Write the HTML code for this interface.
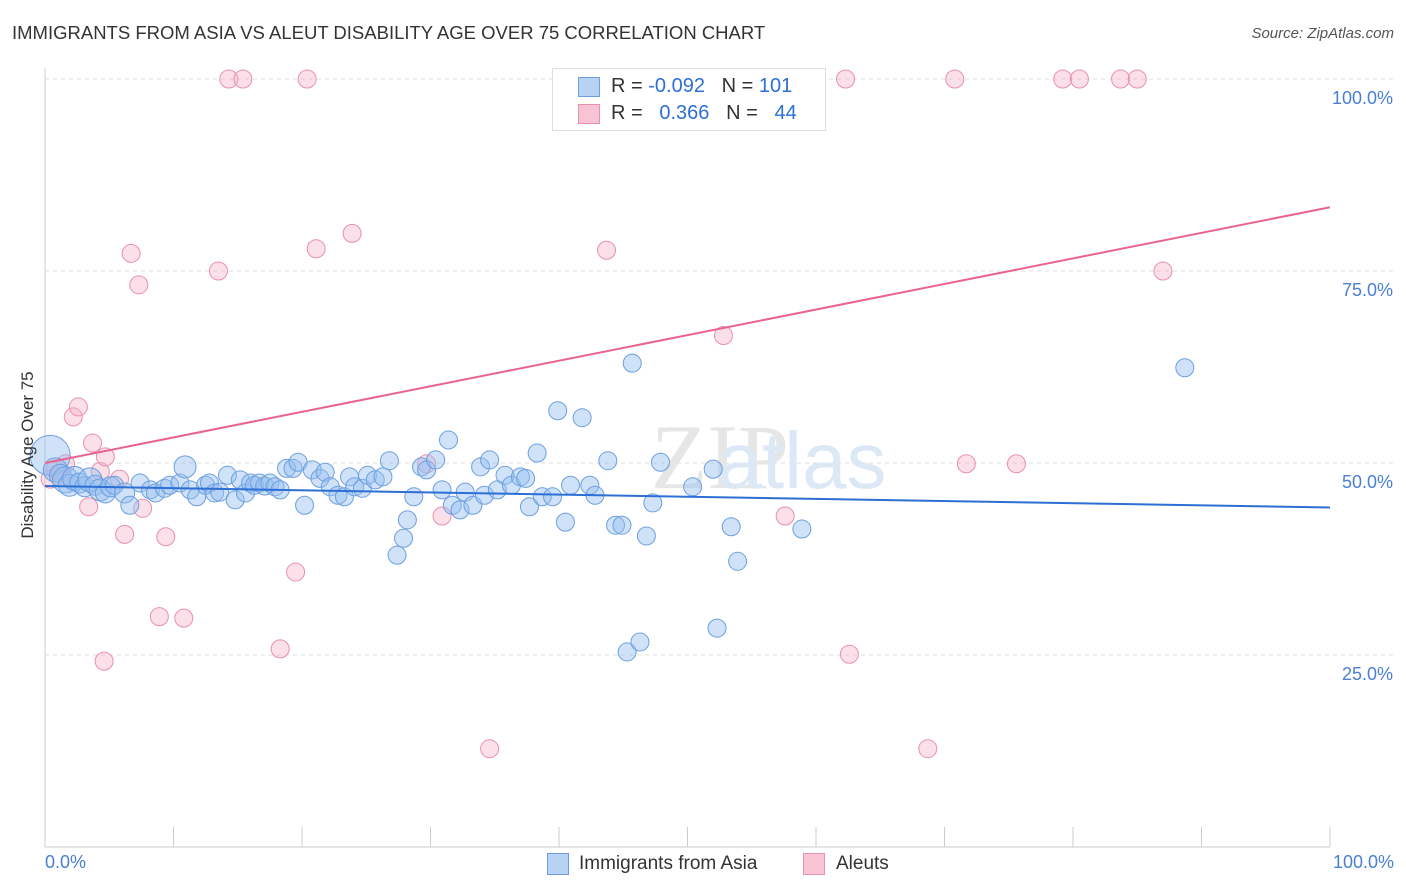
<!DOCTYPE html>
<html><head><meta charset="utf-8"><style>
body{margin:0;background:#fff;font-family:"Liberation Sans",sans-serif}
#wrap{position:relative;width:1406px;height:892px;overflow:hidden}
.t{position:absolute;white-space:nowrap}
</style></head><body>
<div id="wrap">
<div class="t" style="left:12px;top:22px;font-size:18.5px;color:#333">IMMIGRANTS FROM ASIA VS ALEUT DISABILITY AGE OVER 75 CORRELATION CHART</div>
<div class="t" style="right:12px;top:25px;font-size:15px;color:#555;font-style:italic">Source: ZipAtlas.com</div>
<svg id="svg" width="1406" height="892" style="position:absolute;left:0;top:0"></svg>
</div>
<script>
const yTicks=[25,50,75,100];
const yTickLabels=["25.0%","50.0%","75.0%","100.0%"];
const blueX=[0.4,0.8,1.2,1.6,1.9,2.3,2.7,3.1,3.5,3.9,4.3,4.7,5.1,5.4,6.2,6.6,7.4,8.2,8.6,9.3,9.7,10.5,10.9,11.3,11.8,12.5,12.8,13.2,13.6,14.2,14.8,15.2,15.6,16.0,16.3,16.7,17.1,17.5,17.9,18.3,18.8,19.3,19.7,20.2,20.8,21.4,21.8,22.2,22.8,23.3,23.7,24.1,24.7,25.1,25.7,26.3,26.8,27.4,27.9,28.2,28.7,29.3,29.7,30.4,30.9,31.4,31.7,32.3,32.7,33.3,33.9,34.2,34.6,35.2,35.8,36.3,37.0,37.4,37.7,38.3,38.7,39.5,39.9,40.5,40.9,41.8,42.4,42.8,43.8,44.4,44.9,45.3,46.3,46.8,47.3,47.9,45.7,50.4,52.0,52.3,53.4,53.9,58.9,88.7];
const blueY=[51.0,49.1,48.4,47.8,47.1,48.0,47.4,46.9,47.8,47.1,46.5,46.1,46.9,47.1,46.1,44.5,47.4,46.5,46.1,46.7,47.1,47.4,49.5,46.5,45.6,47.1,47.4,46.1,46.2,48.4,45.2,47.8,46.1,47.4,47.1,47.4,47.0,47.4,46.9,46.5,49.3,49.3,50.1,44.5,49.1,48.0,48.8,46.9,45.8,45.6,48.2,46.9,46.7,48.4,47.8,48.2,50.3,38.0,40.2,42.6,45.6,49.5,49.1,50.4,46.5,53.0,44.5,43.9,46.2,44.5,49.5,45.8,50.4,46.5,48.4,47.1,48.2,48.0,44.3,51.3,45.6,45.6,56.8,42.3,47.1,55.9,47.1,45.8,50.3,41.9,41.9,25.4,26.7,40.5,44.8,50.1,63.0,46.9,49.2,28.5,41.7,37.2,41.4,62.4];
const blueR=[20,12,11,13,11,12,10,10,12,10,11,10,10,9,10,9,9,9,9,9,9,9,11,9,9,9,9,9,9,9,9,9,9,9,9,9,9,9,9,9,9,9,9,9,9,9,9,9,9,9,9,9,9,9,9,9,9,9,9,9,9,9,9,9,9,9,9,9,9,9,9,9,9,9,9,9,9,9,9,9,9,9,9,9,9,9,9,9,9,9,9,9,9,9,9,9,9,9,9,9,9,9,9,9];
const pinkX=[0.4,0.8,1.2,1.6,2.2,2.6,3.4,3.7,4.3,4.6,4.7,5.8,6.2,6.7,7.3,7.6,8.9,9.4,10.8,13.5,14.3,15.4,18.3,19.5,20.4,21.1,23.9,29.7,30.9,34.6,43.7,47.2,52.8,57.6,62.3,62.6,68.7,70.8,71.7,75.6,79.2,80.5,83.7,85.0,87.0];
const pinkY=[47.9,49.2,48.6,49.9,56,57.3,44.3,52.6,48.9,24.2,50.8,47.9,40.7,77.3,73.2,44.1,30.0,40.4,29.8,75.0,100,100,25.8,35.8,100,77.9,79.9,49.9,43.1,12.8,77.7,100,66.6,43.1,100,25.1,12.8,100,49.9,49.9,100,100,100,100,75.0];
const blueTrend=[47.0,44.2];
const pinkTrend=[50.0,83.3];
const NS="http://www.w3.org/2000/svg";
const svg=document.getElementById('svg');
const X0=45,X1=1330,Y0=847,Y100=79;
const xs=v=>X0+(X1-X0)*v/100, ys=v=>Y0-(Y0-Y100)*v/100;
function mk(tag,attrs,parent){const e=document.createElementNS(NS,tag);for(const k in attrs)e.setAttribute(k,attrs[k]);(parent||svg).appendChild(e);return e;}
yTicks.forEach((t,i)=>{
 const g=mk('line',{x1:X0,x2:1395,y1:ys(t),y2:ys(t),stroke:'#ddd','stroke-dasharray':'4,4'});
 
 
 const tx=mk('text',{x:1393,y:ys(t)+25,'text-anchor':'end','font-size':18,fill:'#4a7fd4','font-family':'Liberation Sans'});
 tx.textContent=yTickLabels[i];
 
 
});
const ax=mk('line',{x1:X0,x2:X1,y1:Y0,y2:Y0,stroke:'#ccc'});


const ay=mk('line',{x1:X0,x2:X0,y1:68,y2:Y0,stroke:'#ccc'});


for(let i=0;i<=10;i++){const tk=mk('line',{x1:xs(i*10),x2:xs(i*10),y1:Y0,y2:Y0-20,stroke:'#ccc'});
 
 }
const wm=mk('text',{x:720,y:488,'text-anchor':'middle','font-size':92,fill:'#e6e6e6','font-family':'Liberation Serif'});
wm.textContent='ZIP';


const wm2=mk('text',{x:802,y:488,'text-anchor':'middle','font-size':80,fill:'#dde8f6','font-family':'Liberation Sans'});
wm2.textContent='atlas';


pinkX.forEach((x,i)=>{const c=mk('circle',{cx:xs(x),cy:ys(pinkY[i]),r:9,fill:'rgba(245,175,200,0.4)',stroke:'#e890ae','stroke-width':1});
 
 });
blueX.forEach((x,i)=>{const c=mk('circle',{cx:xs(x),cy:ys(blueY[i]),r:blueR[i]||9,fill:'rgba(150,190,240,0.45)',stroke:'#6c9fe0','stroke-width':1});
 
 });
const bl=mk('line',{x1:xs(0),x2:xs(100),y1:ys(blueTrend[0]),y2:ys(blueTrend[1]),stroke:'#2d6fd4','stroke-width':2});


const pl=mk('line',{x1:xs(0),x2:xs(100),y1:ys(pinkTrend[0]),y2:ys(pinkTrend[1]),stroke:'#e8648f','stroke-width':2});


</script>
<div class="t" style="left:45px;top:852px;font-size:18px;color:#4a7fd4">0.0%</div>
<div class="t" style="right:12px;top:852px;font-size:18px;color:#4a7fd4">100.0%</div>
<div class="t" style="left:-72px;top:445px;font-size:17px;color:#333;transform:rotate(-90deg);width:200px;text-align:center">Disability Age Over 75</div>
<div style="position:absolute;left:552px;top:68px;width:272px;height:61px;border:1px solid #ddd;background:#fff;font-size:20px">
 <div class="t" style="left:25px;top:8px;width:20px;height:18px;background:#b8d2f4;border:1px solid #6c9fe0"></div>
 <div class="t" style="left:58px;top:6px;color:#333">R = <span style="color:#2d6fd4">-0.092</span>&nbsp;&nbsp;&nbsp;N = <span style="color:#2d6fd4">101</span></div>
 <div class="t" style="left:25px;top:35px;width:20px;height:18px;background:#f8c4d4;border:1px solid #e890ae"></div>
 <div class="t" style="left:58px;top:33px;color:#333">R = &nbsp;&nbsp;<span style="color:#2d6fd4">0.366</span>&nbsp;&nbsp;&nbsp;N = &nbsp;&nbsp;<span style="color:#2d6fd4">44</span></div>
</div>
<div class="t" style="left:547px;top:853px;width:20px;height:20px;background:#b8d2f4;border:1px solid #6c9fe0"></div>
<div class="t" style="left:579px;top:853px;font-size:19px;color:#333">Immigrants from Asia</div>
<div class="t" style="left:803px;top:853px;width:20px;height:20px;background:#f8c4d4;border:1px solid #e890ae"></div>
<div class="t" style="left:836px;top:853px;font-size:19px;color:#333">Aleuts</div>
</body></html>
